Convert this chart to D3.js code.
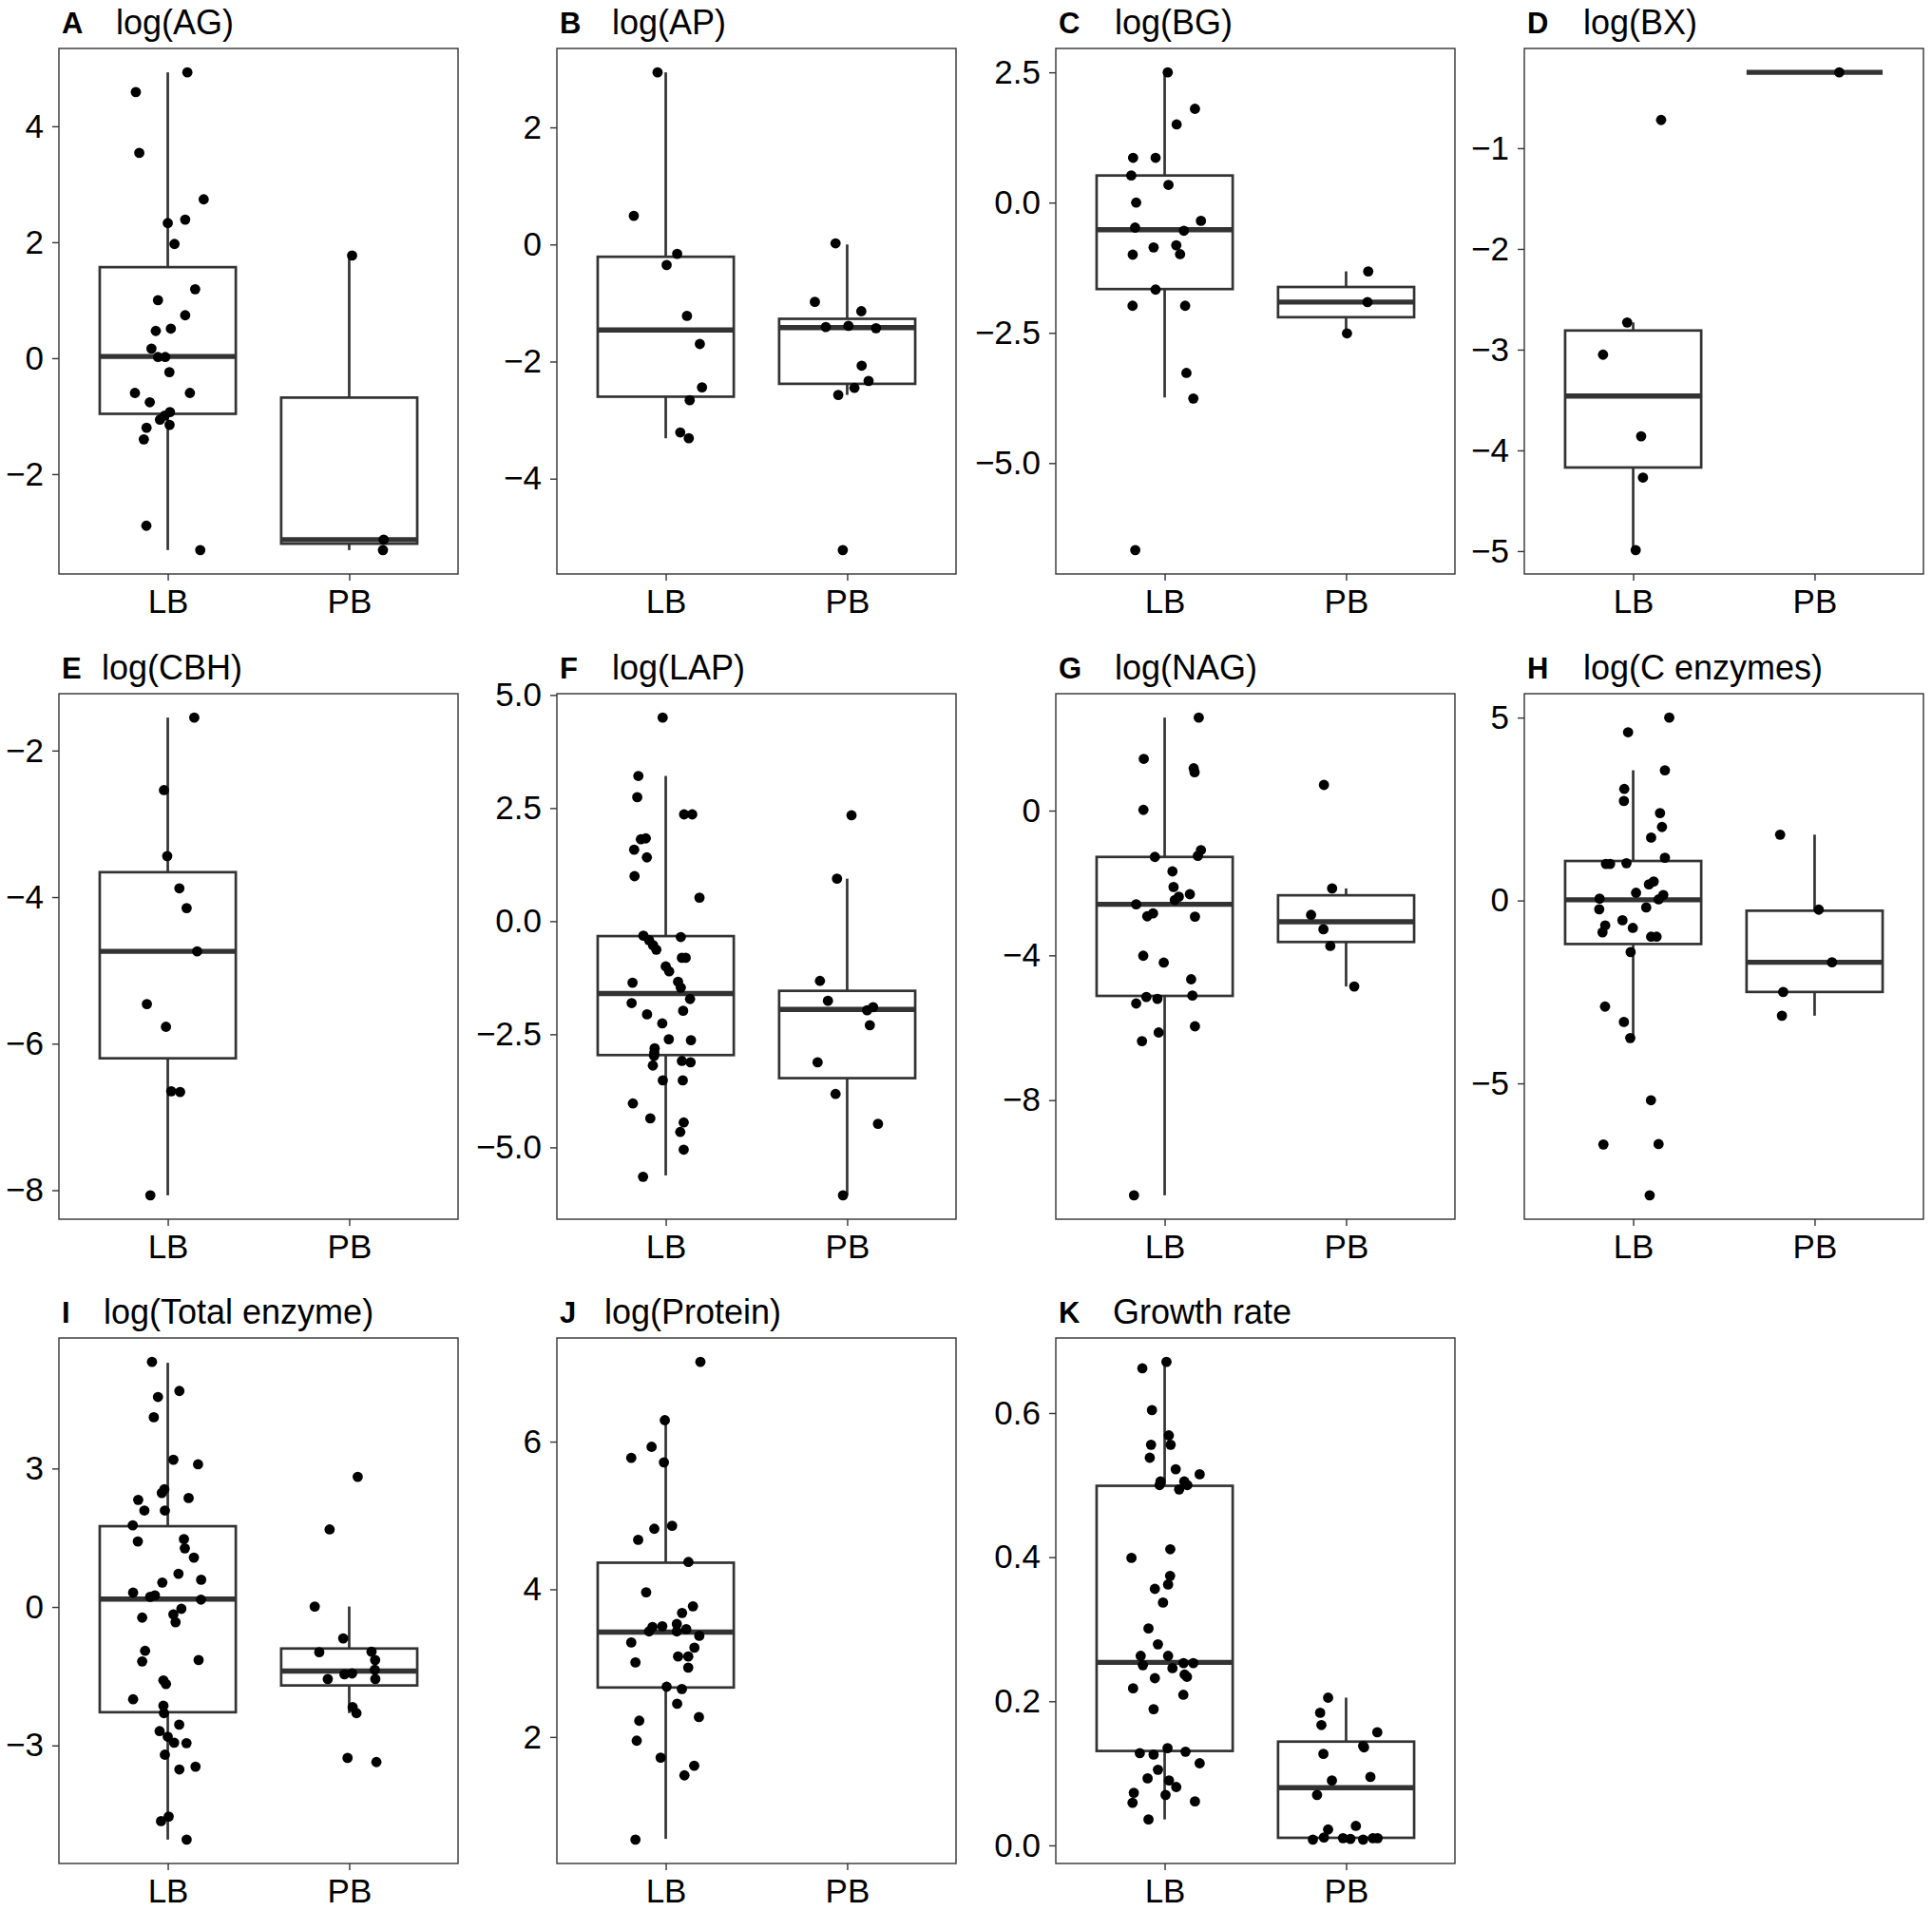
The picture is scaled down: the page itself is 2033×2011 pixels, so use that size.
<!DOCTYPE html>
<html>
<head>
<meta charset="utf-8">
<script src="https://cdn.jsdelivr.net/npm/d3@7"></script>
<style>
  body { margin: 0; background: #fff; }
  text { font-family: "Liberation Sans", Arial, Helvetica, sans-serif; }
</style>
</head>
<body>
<div id="chart-area"></div>
<script>
// groups on the x axis
const groups = ["LB", "PB"];

// panel tags and titles
const tags = ["A", "B", "C", "D", "E", "F", "G", "H", "I", "J", "K"];
const titles = ["log(AG)", "log(AP)", "log(BG)", "log(BX)", "log(CBH)", "log(LAP)",
  "log(NAG)", "log(C enzymes)", "log(Total enzyme)", "log(Protein)", "Growth rate"];

// y tick values per panel
const yTicks = [
  [-2, 0, 2, 4], [-4, -2, 0, 2], [-5, -2.5, 0, 2.5], [-5, -4, -3, -2, -1],
  [-8, -6, -4, -2], [-5, -2.5, 0, 2.5, 5], [-8, -4, 0], [-5, 0, 5],
  [-3, 0, 3], [2, 4, 6], [0, 0.2, 0.4, 0.6]
];
const yFormats = ["d", "d", ".1f", "d", "d", ".1f", "d", "d", "d", "d", ".1f"];

// --- A: log(AG)
const agLB = [4.93, 4.59, 3.54, 2.74, 2.33, 2.39, 1.97, 1.19, 1.00, 0.74, 0.47, 0.51, 0.165, 0.02, 0.02, -0.24, -0.60, -0.60, -0.76, -0.93, -0.99, -1.06, -1.15, -1.20, -1.40, -2.89, -3.31];
const agLBJitter = [0.108, -0.176, -0.157, 0.198, 0, 0.096, 0.037, 0.151, -0.054, 0.096, -0.066, 0.017, -0.09, -0.054, -0.014, 0.009, -0.181, 0.122, -0.099, 0.012, -0.017, -0.043, 0.01, -0.117, -0.132, -0.118, 0.179];
const agPB = [1.77, -3.13, -3.31];
const agPBJitter = [0.016, 0.19, 0.186];
// box stats: [lower whisker, q1, median, q3, upper whisker]
const agLBBox = [-3.31, -0.96, 0.03, 1.57, 4.93];
const agPBBox = [-3.31, -3.20, -3.13, -0.68, 1.77];

// --- B: log(AP)
const apLB = [2.94, 0.49, -0.16, -0.35, -1.22, -1.70, -2.44, -2.66, -3.21, -3.31];
const apLBJitter = [-0.045, -0.176, 0.063, 0.005, 0.117, 0.188, 0.2, 0.132, 0.08, 0.127];
const apPB = [0.02, -0.98, -1.14, -1.41, -1.39, -1.43, -2.07, -2.33, -2.45, -2.57, -5.22];
const apPBJitter = [-0.064, -0.178, 0.078, -0.118, 0.007, 0.159, 0.08, 0.118, 0.04, -0.049, -0.024];
const apLBBox = [-3.31, -2.60, -1.46, -0.21, 2.94];
const apPBBox = [-2.57, -2.38, -1.42, -1.27, 0.0];

// --- C: log(BG)
const bgLB = [2.50, 1.80, 1.50, 0.86, 0.86, 0.52, 0.34, 0.0, -0.48, -0.35, -0.54, -0.86, -0.82, -1.00, -0.99, -1.67, -1.98, -1.98, -3.27, -3.76, -6.67];
const bgLBJitter = [0.017, 0.167, 0.066, -0.174, -0.05, -0.184, 0.021, -0.157, -0.163, 0.2, 0.106, -0.061, 0.064, -0.176, 0.085, -0.05, -0.177, 0.113, 0.12, 0.158, -0.162];
const bgPB = [-1.32, -1.91, -2.51];
const bgPBJitter = [0.122, 0.118, 0.005];
const bgLBBox = [-3.74, -1.66, -0.52, 0.52, 2.50];
const bgPBBox = [-2.51, -2.20, -1.91, -1.62, -1.32];

// --- D: log(BX)
const bxLB = [-0.72, -2.73, -3.05, -3.86, -4.27, -4.99];
const bxLBJitter = [0.154, -0.033, -0.166, 0.044, 0.054, 0.014];
const bxPB = [-0.247];
const bxPBJitter = [0.136];
const bxLBBox = [-4.99, -4.17, -3.46, -2.81, -2.73];
const bxPBBox = [-0.247, -0.247, -0.247, -0.247, -0.247];

// --- E: log(CBH)
const cbhLB = [-1.55, -2.54, -3.44, -3.88, -4.15, -4.74, -5.46, -5.77, -6.65, -6.66, -8.07];
const cbhLBJitter = [0.146, -0.021, -0.003, 0.064, 0.104, 0.162, -0.115, -0.01, 0.019, 0.068, -0.096];
const cbhPB = [];
const cbhPBJitter = [];
const cbhLBBox = [-8.07, -6.20, -4.74, -3.66, -1.55];
const cbhPBBox = null;

// --- F: log(LAP)
const lapLB = [4.50, 3.21, 2.74, 2.36, 2.36, 1.81, 1.83, 1.58, 1.41, 0.995, 0.52, -0.32, -0.42, -0.53, -0.63, -0.35, -0.81, -0.81, -1.00, -1.11, -1.36, -1.34, -1.47, -1.72, -1.81, -1.98, -2.06, -2.26, -2.61, -2.63, -2.81, -2.91, -2.98, -3.09, -3.12, -3.19, -3.52, -3.52, -4.03, -4.36, -4.45, -4.66, -5.05, -5.65];
const lapLBJitter = [-0.017, -0.151, -0.157, 0.101, 0.146, -0.137, -0.11, -0.174, -0.104, -0.172, 0.186, -0.123, -0.092, -0.07, -0.052, 0.083, 0.089, 0.11, 0, 0.019, -0.183, 0.068, 0.083, 0.134, -0.188, 0.096, -0.103, -0.019, 0.017, 0.139, -0.061, -0.063, -0.064, 0.089, 0.137, -0.071, -0.016, 0.094, -0.181, -0.085, 0.099, 0.08, 0.099, -0.125];
const lapPB = [2.34, 0.94, -1.32, -1.76, -1.90, -1.97, -2.30, -3.12, -3.82, -4.48, -6.06];
const lapPBJitter = [0.024, -0.056, -0.15, -0.106, 0.143, 0.11, 0.125, -0.163, -0.064, 0.17, -0.023];
const lapLBBox = [-5.62, -2.96, -1.60, -0.33, 3.21];
const lapPBBox = [-6.06, -3.47, -1.95, -1.54, 0.94];

// --- G: log(NAG)
const nagLB = [2.57, 1.43, 1.17, 1.06, 0.02, -1.09, -1.25, -1.28, -1.68, -2.11, -2.31, -2.38, -2.47, -2.59, -2.84, -2.92, -2.93, -4.01, -4.20, -4.66, -5.15, -5.20, -5.11, -5.33, -5.96, -6.13, -6.37, -10.63];
const nagLBJitter = [0.188, -0.115, 0.16, 0.165, -0.117, 0.2, 0.183, -0.054, 0.043, 0.049, 0.139, 0.078, 0.056, -0.157, -0.064, -0.096, 0.167, -0.118, -0.005, 0.146, -0.101, -0.04, 0.153, -0.157, 0.167, -0.033, -0.125, -0.169];
const nagPB = [0.71, -2.15, -2.88, -3.28, -3.74, -4.86];
const nagPBJitter = [-0.122, -0.077, -0.193, -0.125, -0.087, 0.045];
const nagLBBox = [-10.63, -5.12, -2.59, -1.28, 2.57];
const nagPBBox = [-4.86, -3.63, -3.07, -2.34, -2.15];

// --- H: log(C enzymes)
const cenzLB = [5.00, 4.60, 3.56, 3.05, 2.72, 2.39, 2.01, 1.72, 1.17, 1.00, 1.00, 1.02, 0.52, 0.44, 0.21, 0.15, 0.05, 0.03, -0.19, -0.24, -0.54, -0.68, -0.75, -0.87, -0.99, -0.99, -1.41, -2.90, -3.32, -3.76, -5.46, -6.67, -6.66, -8.06];
const cenzLBJitter = [0.199, -0.028, 0.175, -0.049, -0.051, 0.148, 0.159, 0.099, 0.175, -0.15, -0.127, -0.037, 0.113, 0.087, 0.016, 0.166, -0.185, 0.14, 0.072, -0.187, -0.059, -0.154, -0.002, -0.169, 0.099, 0.129, -0.014, -0.155, -0.051, -0.016, 0.098, -0.164, 0.14, 0.091];
const cenzPB = [1.80, -0.25, -1.69, -2.50, -3.15];
const cenzPBJitter = [-0.19, 0.023, 0.096, -0.173, -0.18];
const cenzLBBox = [-3.76, -1.19, 0.02, 1.08, 3.56];
const cenzPBBox = [-3.15, -2.50, -1.69, -0.28, 1.80];

// --- I: log(Total enzyme)
const totLB = [5.31, 4.68, 4.55, 4.11, 3.19, 3.09, 2.55, 2.47, 2.32, 2.36, 2.09, 2.09, 1.77, 1.42, 1.47, 1.27, 1.07, 0.72, 0.53, 0.59, 0.31, 0.22, 0.25, 0.16, -0.04, -0.23, -0.16, -0.33, -0.95, -1.18, -1.15, -1.59, -1.67, -2.00, -2.14, -2.30, -2.55, -2.69, -2.81, -2.94, -2.95, -3.20, -3.52, -3.46, -4.54, -4.64, -5.04];
const totLBJitter = [-0.087, 0.064, -0.054, -0.077, 0.031, 0.167, -0.019, -0.033, -0.163, 0.115, -0.129, -0.016, -0.193, -0.165, 0.089, 0.094, 0.144, 0.059, -0.03, 0.184, -0.191, -0.097, -0.071, 0.183, 0.075, -0.141, 0.031, 0.043, -0.125, -0.141, 0.17, -0.024, -0.01, -0.191, -0.024, -0.021, 0.063, -0.045, 0, 0.035, 0.103, -0.016, 0.064, 0.153, 0.005, -0.037, 0.104];
const totPB = [2.82, 1.68, 0.01, -0.68, -0.98, -0.97, -1.15, -1.36, -1.46, -1.44, -1.56, -1.56, -2.17, -2.30, -3.27, -3.36];
const totPBJitter = [0.047, -0.108, -0.19, -0.033, -0.165, 0.123, 0.143, 0.141, -0.026, 0.016, -0.118, 0.144, 0.019, 0.04, -0.009, 0.15];
const totLBBox = [-5.04, -2.28, 0.17, 1.75, 5.29];
const totPBBox = [-2.30, -1.70, -1.39, -0.90, 0.01];

// --- J: log(Protein)
const protLB = [7.08, 6.29, 5.93, 5.78, 5.72, 4.86, 4.82, 4.67, 4.37, 3.96, 3.77, 3.68, 3.50, 3.53, 3.49, 3.43, 3.46, 3.43, 3.37, 3.28, 3.21, 3.09, 3.09, 3.01, 2.94, 2.68, 2.65, 2.45, 2.22, 2.27, 1.95, 1.72, 1.61, 1.48, 0.61];
const protLBJitter = [0.191, -0.005, -0.078, -0.19, -0.01, 0.035, -0.063, -0.152, 0.125, -0.108, 0.15, 0.09, -0.019, 0.061, -0.073, -0.092, 0.113, 0.061, 0.185, -0.19, 0.158, 0.068, 0.124, -0.167, 0.124, 0.005, 0.089, 0.063, -0.146, 0.183, -0.16, -0.028, 0.157, 0.103, -0.167];
const protPB = [];
const protPBJitter = [];
const protLBBox = [0.62, 2.67, 3.42, 4.36, 6.29];
const protPBBox = null;

// --- K: Growth rate
const growLB = [0.671, 0.662, 0.604, 0.569, 0.556, 0.556, 0.538, 0.522, 0.515, 0.505, 0.505, 0.500, 0.500, 0.494, 0.411, 0.399, 0.374, 0.362, 0.356, 0.337, 0.301, 0.279, 0.263, 0.263, 0.250, 0.253, 0.253, 0.246, 0.237, 0.234, 0.232, 0.218, 0.209, 0.189, 0.135, 0.128, 0.126, 0.130, 0.114, 0.105, 0.093, 0.090, 0.081, 0.073, 0.070, 0.059, 0.061, 0.036];
const growLBJitter = [0.01, -0.123, -0.07, 0.023, -0.075, 0.033, -0.082, 0.061, 0.193, -0.023, 0.108, 0.125, -0.028, 0.08, 0.031, -0.183, 0.03, 0.019, -0.054, -0.009, -0.089, -0.037, -0.132, 0.019, -0.12, 0.104, 0.158, 0.043, 0.11, 0.123, -0.054, -0.174, 0.103, -0.061, 0.016, -0.137, -0.061, 0.115, 0.193, -0.037, -0.094, 0.024, 0.064, -0.17, 0.005, -0.177, 0.167, -0.089];
const growPB = [0.205, 0.184, 0.167, 0.157, 0.138, 0.136, 0.127, 0.090, 0.095, 0.070, 0.022, 0.027, 0.011, 0.008, 0.010, 0.009, 0.008, 0.010, 0.010];
const growPBJitter = [-0.099, -0.143, -0.136, 0.172, 0.094, 0.099, -0.125, -0.078, 0.134, -0.16, -0.099, 0.054, -0.122, -0.183, -0.017, 0.024, 0.094, 0.148, 0.174];
const growLBBox = [0.036, 0.131, 0.254, 0.499, 0.671];
const growPBBox = [0.008, 0.0105, 0.080, 0.144, 0.205];

// table the drawing code walks through
const panelData = [
  [agLB, agLBJitter, agPB, agPBJitter, agLBBox, agPBBox],
  [apLB, apLBJitter, apPB, apPBJitter, apLBBox, apPBBox],
  [bgLB, bgLBJitter, bgPB, bgPBJitter, bgLBBox, bgPBBox],
  [bxLB, bxLBJitter, bxPB, bxPBJitter, bxLBBox, bxPBBox],
  [cbhLB, cbhLBJitter, cbhPB, cbhPBJitter, cbhLBBox, cbhPBBox],
  [lapLB, lapLBJitter, lapPB, lapPBJitter, lapLBBox, lapPBBox],
  [nagLB, nagLBJitter, nagPB, nagPBJitter, nagLBBox, nagPBBox],
  [cenzLB, cenzLBJitter, cenzPB, cenzPBJitter, cenzLBBox, cenzPBBox],
  [totLB, totLBJitter, totPB, totPBJitter, totLBBox, totPBBox],
  [protLB, protLBJitter, protPB, protPBJitter, protLBBox, protPBBox],
  [growLB, growLBJitter, growPB, growPBJitter, growLBBox, growPBBox]
];

// layout
const colLeft = [62, 586, 1111, 1604];
const rowTop = [51, 730, 1408];
const panelW = 420;
const panelH = 553;
const titleDx = [60, 58, 62, 62, 45, 58, 62, 62, 47, 50, 60];
const lineCol = "#333333";
const fontSize = 35;

const svg = d3.select("#chart-area").append("svg")
  .attr("width", 2033)
  .attr("height", 2011)
  .style("background", "#fff");

panelData.forEach(function (pd, i) {
  const [lb, lbJit, pb, pbJit, lbBox, pbBox] = pd;
  const left = colLeft[i % 4];
  const top = rowTop[Math.floor(i / 4)];

  const g = svg.append("g")
    .attr("transform", "translate(" + left + "," + top + ")");

  // y range like ggplot: data range plus 5% each side
  const allVals = lb.concat(pb).concat(lbBox).concat(pbBox || []);
  const lo = d3.min(allVals), hi = d3.max(allVals);
  const pad = (hi - lo) * 0.05;

  const x = d3.scalePoint()
    .domain(groups)
    .range([0, panelW])
    .padding(0.6);
  const step = x.step();

  const y = d3.scaleLinear()
    .domain([lo - pad, hi + pad])
    .range([panelH, 0]);

  // boxplots
  const boxes = [[groups[0], lbBox], [groups[1], pbBox]].filter(d => d[1]);
  const halfW = 0.375 * step;
  boxes.forEach(function (b) {
    const cx = x(b[0]);
    const s = b[1];
    const bg = g.append("g");
    bg.append("line")
      .attr("x1", cx).attr("x2", cx)
      .attr("y1", y(s[3])).attr("y2", y(s[4]))
      .attr("stroke", lineCol).attr("stroke-width", 2.7);
    bg.append("line")
      .attr("x1", cx).attr("x2", cx)
      .attr("y1", y(s[0])).attr("y2", y(s[1]))
      .attr("stroke", lineCol).attr("stroke-width", 2.7);
    bg.append("rect")
      .attr("x", cx - halfW)
      .attr("y", y(s[3]))
      .attr("width", halfW * 2)
      .attr("height", Math.max(0, y(s[1]) - y(s[3])))
      .attr("fill", "#fff")
      .attr("stroke", lineCol)
      .attr("stroke-width", 2.7);
    bg.append("line")
      .attr("x1", cx - halfW).attr("x2", cx + halfW)
      .attr("y1", y(s[2])).attr("y2", y(s[2]))
      .attr("stroke", lineCol).attr("stroke-width", 5.4);
  });

  // jittered points
  const pts = lb.map((v, k) => ({ grp: groups[0], v: v, j: lbJit[k] }))
    .concat(pb.map((v, k) => ({ grp: groups[1], v: v, j: pbJit[k] })));

  g.selectAll("circle")
    .data(pts)
    .enter()
    .append("circle")
    .attr("cx", d => x(d.grp) + d.j * step)
    .attr("cy", d => y(d.v))
    .attr("r", 5.4)
    .attr("fill", "#000");

  // axes
  const yAxis = g.append("g")
    .call(d3.axisLeft(y)
      .tickValues(yTicks[i])
      .tickFormat(d3.format(yFormats[i]))
      .tickSize(7)
      .tickPadding(9));
  const xAxis = g.append("g")
    .attr("transform", "translate(0," + panelH + ")")
    .call(d3.axisBottom(x).tickSize(7).tickPadding(9));

  [yAxis, xAxis].forEach(function (ax) {
    ax.select(".domain").remove();
    ax.selectAll(".tick line").attr("stroke", lineCol).attr("stroke-width", 1.4);
    ax.selectAll(".tick text")
      .attr("fill", "#000")
      .style("font-size", fontSize + "px")
      .style("font-family", "'Liberation Sans', Arial, sans-serif");
  });

  // panel border
  g.append("rect")
    .attr("width", panelW)
    .attr("height", panelH)
    .attr("fill", "none")
    .attr("stroke", lineCol)
    .attr("stroke-width", 1.4);

  // tag and title
  g.append("text")
    .attr("x", 3)
    .attr("y", -16)
    .style("font-size", "31px")
    .style("font-weight", "bold")
    .text(tags[i]);
  g.append("text")
    .attr("x", titleDx[i])
    .attr("y", -15)
    .style("font-size", "36px")
    .text(titles[i]);
});
</script>
</body>
</html>
